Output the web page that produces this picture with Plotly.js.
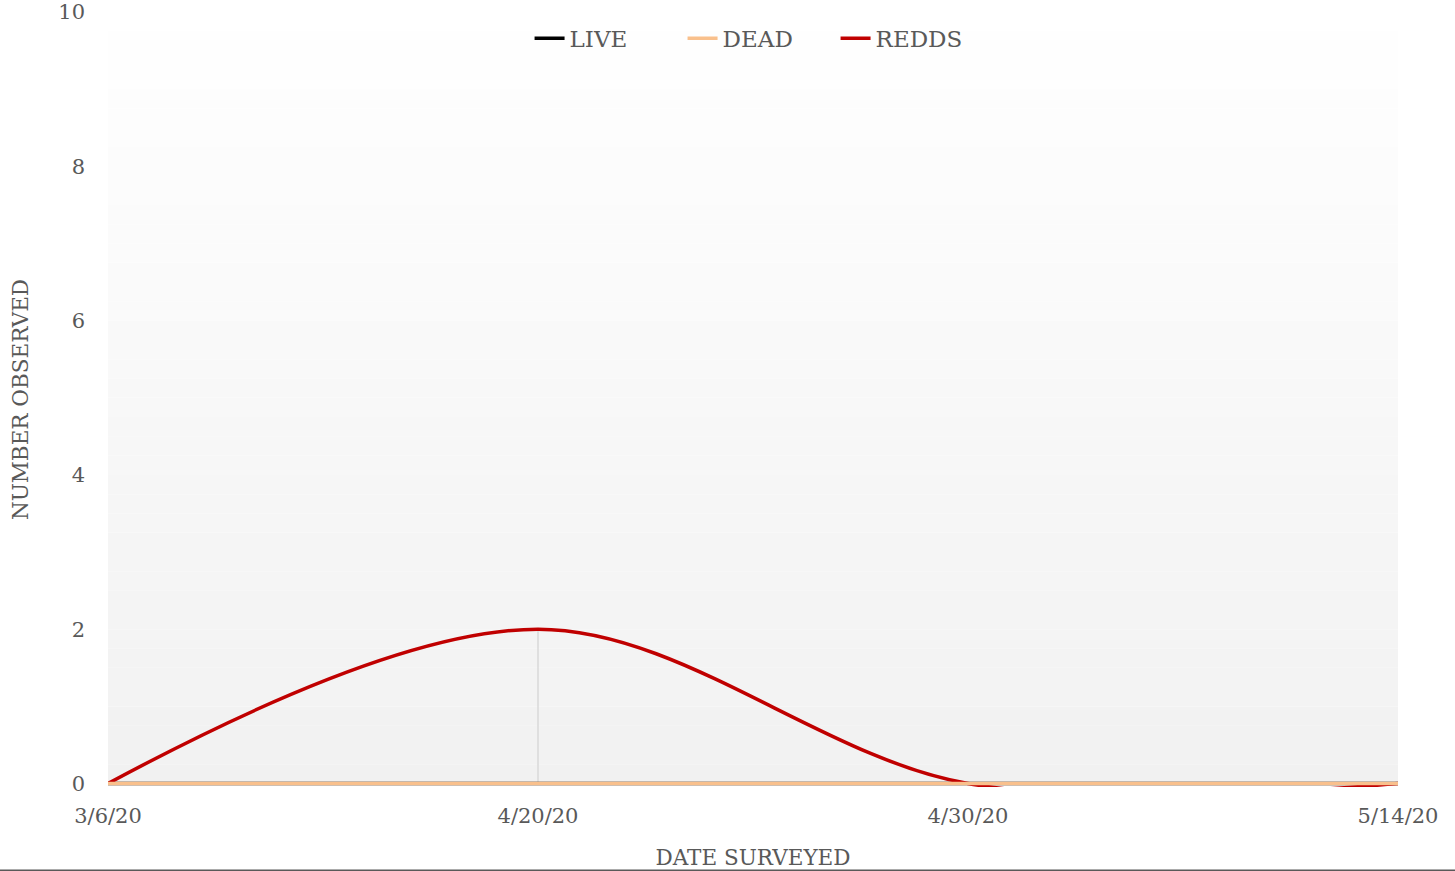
<!DOCTYPE html>
<html>
<head>
<meta charset="utf-8">
<script src="https://cdn.plot.ly/plotly-3.0.1.min.js"></script>
<style>html,body{margin:0;padding:0;background:#fff;}#chart{width:1455px;height:871px;}</style>
</head>
<body>
<div id="chart"></div>
<script>
const dates = ["3/6/20", "4/20/20", "4/30/20", "5/14/20"];
const live = [0, 0, 0, 0];
const dead = [0, 0, 0, 0];
const redds = [0, 2, 0, 0];
const yTicks = [0, 2, 4, 6, 8, 10];

const FONT = "DejaVu Serif, serif";
const TXT = "#595959";
const YMAX = 10;
const YPAD = 0.045; // small room below 0 so the zero lines are not clipped

// banded vertical gradient background of the plot area (0..10)
const bands = [];
const N = 40;
for (let i = 0; i < N; i++) {
  const f = (i + 0.5) / N;
  const v = Math.round(241 + (255 - 241) * f);
  bands.push({
    type: "rect", xref: "x domain", yref: "y",
    x0: 0, x1: 1, y0: YMAX * i / N, y1: YMAX * (i + 1) / N,
    fillcolor: `rgb(${v},${v},${v})`, line: {width: 0}, layer: "below"
  });
}

const shapes = bands.concat([
  {type: "line", xref: "x", yref: "y", x0: dates[1], x1: dates[1], y0: 0, y1: redds[1],
   line: {color: "#d9d9d9", width: 1.5}, layer: "below"},
  {type: "line", xref: "paper", yref: "paper", x0: -0.09, x1: 1.05, y0: -0.1075, y1: -0.1075,
   line: {color: "#595959", width: 1.5}}
]);

const mk = (name, y, color) => ({
  type: "scatter", mode: "lines", name: name, x: dates, y: y,
  line: {color: color, width: 3.5, shape: "spline", smoothing: 1}
});

const data = [
  mk("LIVE", live, "#000000"),
  mk("REDDS", redds, "#c00000"),
  mk("DEAD", dead, "#f9c08c")
];
data[0].legendrank = 1; data[2].legendrank = 2; data[1].legendrank = 3;

const layout = {
  width: 1455, height: 871,
  margin: {l: 108, r: 57, t: 12, b: 84},
  paper_bgcolor: "#ffffff",
  plot_bgcolor: "rgba(0,0,0,0)",
  font: {family: FONT, color: TXT, size: 21},
  showlegend: true,
  legend: {orientation: "h", x: 0.5047, xanchor: "center", y: 0.966, yanchor: "middle",
           traceorder: "normal", entrywidth: 108, entrywidthmode: "pixels",
           font: {family: FONT, size: 23, color: TXT}, bgcolor: "rgba(0,0,0,0)"},
  xaxis: {type: "category", range: [0, dates.length - 1], showgrid: false, zeroline: false,
          showline: false, ticks: "", tickfont: {size: 21}, ticklabelstandoff: 14,
          title: {text: "DATE SURVEYED", font: {size: 21.5, color: TXT}, standoff: 22}},
  yaxis: {range: [-YPAD, YMAX], tickvals: yTicks, showgrid: false, zeroline: false, showline: false,
          ticks: "", tickfont: {size: 21}, ticklabelstandoff: 22, ticklabeloverflow: "allow",
          title: {text: "NUMBER OBSERVED", font: {size: 21.5, color: TXT}, standoff: 23}},
  shapes: shapes
};

Plotly.newPlot("chart", data, layout, {displayModeBar: false, staticPlot: true});
</script>
</body>
</html>
